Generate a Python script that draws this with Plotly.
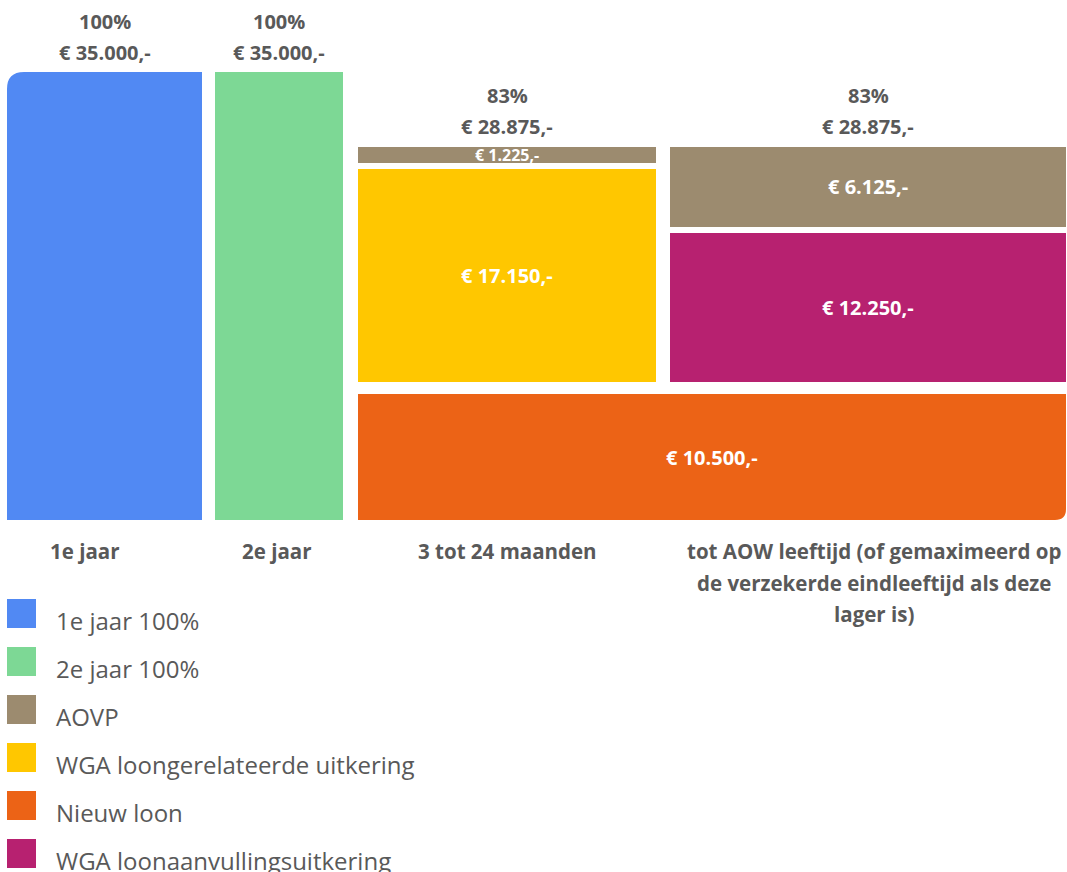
import plotly.graph_objects as go

# ---------------- data ----------------
categories = [
    "1e jaar",
    "2e jaar",
    "3 tot 24 maanden",
    "tot AOW leeftijd (of gemaximeerd op\nde verzekerde eindleeftijd als deze\nlager is)",
]
pct_labels = ["100%", "100%", "83%", "83%"]

jaar1 = [35000, None, None, None]
jaar2 = [None, 35000, None, None]
nieuw_loon = [None, None, 10500, 10500]
wga_loongerelateerd = [None, None, 17150, None]
wga_loonaanvulling = [None, None, None, 12250]
aovp = [None, None, 1225, 6125]

# stack order (bottom -> top), drawing order
series = [
    ("1e jaar 100%", jaar1, "#5189F3"),
    ("2e jaar 100%", jaar2, "#7DD895"),
    ("Nieuw loon", nieuw_loon, "#EC6316"),
    ("WGA loongerelateerde uitkering", wga_loongerelateerd, "#FFC700"),
    ("WGA loonaanvullingsuitkering", wga_loonaanvulling, "#B72170"),
    ("AOVP", aovp, "#9C8B6F"),
]
legend_order = ["1e jaar 100%", "2e jaar 100%", "AOVP",
                "WGA loongerelateerde uitkering", "Nieuw loon",
                "WGA loonaanvullingsuitkering"]

# ---------------- layout / style ----------------
W, H = 1067, 872
COL_X0 = [7, 215, 358, 670]
COL_X1 = [202, 343, 656, 1066]
Y0_PX = 526          # pixel row of value 0
SCALE_PX = 460       # pixel height of the largest column
STROKE = {"AOVP": 0}
DEFAULT_STROKE = 12
TEXT_GREY = "#595959"
FONT = "Open Sans"
CAT_XSHIFT = [-20, -2, 0, 6]
CORNERS = {"1e jaar 100%": ("tl", 17), "Nieuw loon": ("br", 11)}


def fmt_eur(v):
    return "€ " + f"{v:,}".replace(",", ".") + ",-"


ncol = len(categories)
totals = [sum(s[1][i] or 0 for s in series) for i in range(ncol)]
nseg = [sum(1 for s in series if s[1][i] is not None) for i in range(ncol)]
k = SCALE_PX / max(totals)


def py(p):
    """pixel row -> data value"""
    return (Y0_PX - p) / k


fig = go.Figure()
annotations = []
shapes = []
running = [0] * ncol
top_stroke = [0] * ncol

for name, vals, color in series:
    sw = STROKE.get(name, DEFAULT_STROKE)
    # group consecutive equal values into one (merged) bar
    groups = []
    i = 0
    while i < ncol:
        if vals[i] is None:
            i += 1
            continue
        j = i
        while j + 1 < ncol and vals[j + 1] == vals[i] and running[j + 1] == running[i]:
            j += 1
        groups.append((i, j))
        i = j + 1
    xs, ys, bases, widths = [], [], [], []
    for (i, j) in groups:
        x0, x1 = COL_X0[i], COL_X1[j]
        xs.append((x0 + x1) / 2)
        widths.append(x1 - x0 + sw)
        ys.append(vals[i])
        bases.append(running[i])
        # inside label (only for stacked columns)
        if nseg[i] > 1:
            seg_px = vals[i] * k - sw
            size = 20 if seg_px > 30 else 16
            annotations.append(dict(
                x=(x0 + x1) / 2, y=running[i] + vals[i] / 2, xref="x", yref="y",
                text=f"<b>{fmt_eur(vals[i])}</b>", showarrow=False,
                font=dict(family=FONT, size=size, color="white"),
                xanchor="center", yanchor="middle"))
        if name in CORNERS:
            pos, r = CORNERS[name]
            if pos == "tl":
                top = Y0_PX - k * (running[i] + vals[i]) + sw / 2
                path = "M {},{} L {},{} L {},{} Q {},{} {},{} L {},{} Z".format(
                    x0 - 1, py(top - 1), x0 + r, py(top - 1), x0 + r, py(top),
                    x0, py(top), x0, py(top + r), x0 - 1, py(top + r))
            else:
                bot = Y0_PX - k * running[i] - sw / 2
                path = "M {},{} L {},{} L {},{} Q {},{} {},{} L {},{} Z".format(
                    x1 + 1, py(bot + 1), x1 - r, py(bot + 1), x1 - r, py(bot),
                    x1, py(bot), x1, py(bot - r), x1 + 1, py(bot - r))
            shapes.append(dict(type="path", path=path, xref="x", yref="y",
                               fillcolor="white", line=dict(width=0), layer="above"))
    for (i, j) in groups:
        for c in range(i, j + 1):
            running[c] += vals[c]
            top_stroke[c] = sw
    fig.add_trace(go.Bar(
        name=name, x=xs, y=ys, base=bases, width=widths,
        marker=dict(color=color, line=dict(color="white", width=sw)),
        showlegend=False, hoverinfo="skip"))

# labels above columns and category labels below
for c in range(ncol):
    s = top_stroke[c] / 2
    xc = (COL_X0[c] + COL_X1[c]) / 2
    annotations.append(dict(
        x=xc, y=totals[c], xref="x", yref="y",
        text=f"<b>{fmt_eur(totals[c])}</b>", showarrow=False, yshift=20 - s,
        font=dict(family=FONT, size=20, color=TEXT_GREY), yanchor="middle"))
    annotations.append(dict(
        x=xc, y=totals[c], xref="x", yref="y",
        text=f"<b>{pct_labels[c]}</b>", showarrow=False, yshift=51 - s,
        font=dict(family=FONT, size=20, color=TEXT_GREY), yanchor="middle"))
    for li, line in enumerate(categories[c].split("\n")):
        annotations.append(dict(
            x=xc, y=0, xref="x", yref="y",
            text=f"<b>{line}</b>", showarrow=False, yshift=-(25 + li * 31.5),
            xshift=CAT_XSHIFT[c],
            font=dict(family=FONT, size=20.5, color=TEXT_GREY), yanchor="middle"))

# legend (manual, large swatches)
colors = {n: col for n, _, col in series}
for li, name in enumerate(legend_order):
    top = 599 + li * 48
    shapes.append(dict(type="rect", xref="paper", yref="paper",
                       x0=7 / W, x1=36 / W, y0=1 - top / H, y1=1 - (top + 29) / H,
                       fillcolor=colors[name], line=dict(width=0)))
    annotations.append(dict(
        x=54 / W, y=1 - (top + 21) / H, xref="paper", yref="paper",
        text=name, showarrow=False, xanchor="left", yanchor="middle",
        font=dict(family=FONT, size=24, color=TEXT_GREY)))

fig.update_layout(
    width=W, height=H, margin=dict(l=0, r=0, t=0, b=0),
    paper_bgcolor="white", plot_bgcolor="white",
    barmode="overlay", bargap=0,
    xaxis=dict(range=[0, W], visible=False, fixedrange=True),
    yaxis=dict(range=[py(H), py(0)], visible=False, fixedrange=True),
    annotations=annotations, shapes=shapes,
    font=dict(family=FONT, color=TEXT_GREY),
)

fig.write_html(
    "out.html",
    config={"displayModeBar": False},
    post_script="document.body.style.margin='0';document.body.style.overflow='hidden';",
)
